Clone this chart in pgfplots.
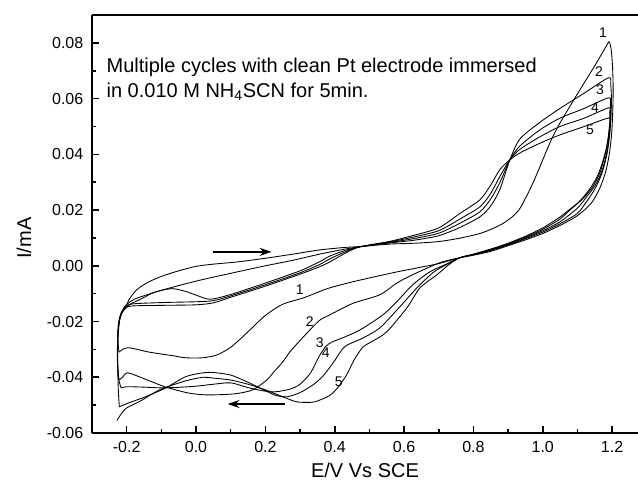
\documentclass[border=0pt]{standalone}
\usepackage{fontspec}
\setmainfont{Liberation Sans}
\usepackage{pgfplots}
\pgfplotsset{compat=1.18}
\usetikzlibrary{arrows.meta}
\begin{document}
\begin{tikzpicture}
\begin{axis}[
  scale only axis, width=409.5pt, height=313.5pt,
  xmin=-0.3, xmax=1.2747, ymin=-0.06, ymax=0.09,
  axis lines*=left, axis line style={-, line width=1.35pt},
  tick align=inside, major tick length=5.5pt, minor tick length=3pt,
  every tick/.style={black, line width=1.2pt},
  xtick={-0.2,0,0.2,0.4,0.6,0.8,1.0,1.2},
  minor xtick={-0.3,-0.1,0.1,0.3,0.5,0.7,0.9,1.1},
  ytick={-0.06,-0.04,-0.02,0,0.02,0.04,0.06,0.08},
  minor ytick={-0.05,-0.03,-0.01,0.01,0.03,0.05,0.07},
  scaled x ticks=false, scaled y ticks=false,
  xticklabel style={/pgf/number format/fixed, /pgf/number format/fixed zerofill, /pgf/number format/precision=1, yshift=-3pt},
  yticklabel style={/pgf/number format/fixed, /pgf/number format/fixed zerofill, /pgf/number format/precision=2, xshift=-3pt},
  /pgf/number format/assume math mode=true,
  tick label style={font=\fontsize{12}{14}\selectfont},
  xlabel={E/V Vs SCE}, ylabel={I/mA},
  label style={font=\fontsize{15}{18}\selectfont},
  xlabel style={at={(axis description cs:0.5,-0.0885)}, anchor=center},
  ylabel style={at={(axis description cs:-0.1245,0.466)}, anchor=center},
  clip=false,
]
\coordinate (BL) at (rel axis cs:-0.1685,-0.134);
\coordinate (TR) at (rel axis cs:1,1.0359);
\draw[line width=1.35pt] (rel axis cs:0,1) -- (rel axis cs:1,1);

% cycle 1
\addplot[black, line width=0.65pt, smooth, tension=0.45, mark=none] coordinates {
(-0.2,-0.014) (-0.19,-0.0115) (-0.17,-0.0085) (-0.14,-0.006) (-0.1,-0.0038) (-0.05,-0.0018) (0.0,-0.0002) (0.05,0.0006) (0.12,0.0014) (0.2,0.0027) (0.28,0.0042) (0.357,0.0057) (0.43,0.0066) (0.472,0.0069) (0.56,0.0078) (0.63,0.0081) (0.7,0.0087) (0.76,0.0099) (0.819,0.0116) (0.86,0.0136) (0.893,0.0158) (0.931,0.020) (0.972,0.0298) (1.021,0.0442) (1.05,0.0513) (1.1,0.0617) (1.15,0.0718) (1.183,0.0788) (1.191,0.0804) (1.197,0.078) (1.201,0.072) (1.203,0.064) (1.202,0.056) (1.199,0.048) (1.193,0.041) (1.182,0.034) (1.165,0.028) (1.14,0.0225) (1.1,0.018) (1.05,0.0145) (1.0,0.0116) (0.95,0.0093) (0.9,0.0072) (0.85,0.0052) (0.8,0.0038) (0.761,0.0029) (0.7,0.0008) (0.64,-0.0007) (0.579,-0.0022) (0.52,-0.0038) (0.45,-0.0058) (0.386,-0.0079) (0.357,-0.0092) (0.31,-0.0115) (0.25,-0.0138) (0.2,-0.0178) (0.164,-0.022) (0.13,-0.026) (0.097,-0.0295) (0.06,-0.032) (0.02,-0.033) (-0.03,-0.033) (-0.07,-0.0322) (-0.134,-0.031) (-0.18,-0.0297) (-0.197,-0.0294) (-0.212,-0.030) (-0.222,-0.031)
};
% cycle 2
\addplot[black, line width=0.65pt, smooth, tension=0.45, mark=none] coordinates {
(-0.222,-0.031) (-0.226,-0.026) (-0.224,-0.021) (-0.218,-0.0175) (-0.205,-0.0145) (-0.185,-0.0125) (-0.168,-0.0115) (-0.1,-0.0088) (0.0,-0.0055) (0.1,-0.0027) (0.2,0.0) (0.28,0.002) (0.357,0.0042) (0.43,0.006) (0.472,0.0068) (0.56,0.0082) (0.63,0.0092) (0.7,0.0108) (0.76,0.0137) (0.819,0.0176) (0.85,0.0215) (0.876,0.0273) (0.905,0.038) (0.934,0.0455) (0.992,0.0515) (1.05,0.0565) (1.12,0.062) (1.19,0.0675) (1.196,0.065) (1.198,0.06) (1.197,0.054) (1.193,0.047) (1.185,0.04) (1.17,0.033) (1.15,0.0275) (1.125,0.0228) (1.1,0.0188) (1.05,0.0151) (1.0,0.0121) (0.95,0.0097) (0.9,0.0075) (0.85,0.0055) (0.8,0.0039) (0.761,0.0029) (0.703,0.0011) (0.625,-0.0032) (0.579,-0.0062) (0.53,-0.0104) (0.452,-0.0135) (0.386,-0.0176) (0.357,-0.0195) (0.33,-0.0228) (0.3,-0.0268) (0.27,-0.031) (0.25,-0.0345) (0.225,-0.038) (0.204,-0.041) (0.164,-0.0445) (0.12,-0.0458) (0.08,-0.0462) (0.025,-0.0463) (-0.024,-0.0456) (-0.09,-0.0434) (-0.15,-0.0405) (-0.197,-0.0384) (-0.212,-0.040) (-0.222,-0.041)
};
% cycle 3
\addplot[black, line width=0.65pt, smooth, tension=0.45, mark=none] coordinates {
(-0.222,-0.041) (-0.226,-0.035) (-0.226,-0.027) (-0.222,-0.0205) (-0.212,-0.0165) (-0.19,-0.0138) (-0.16,-0.012) (-0.12,-0.0095) (-0.07,-0.0082) (-0.03,-0.0092) (0.0,-0.0105) (0.04,-0.012) (0.1,-0.0103) (0.2,-0.0062) (0.3,-0.0018) (0.357,0.0015) (0.386,0.0035) (0.43,0.0055) (0.472,0.0068) (0.56,0.0084) (0.63,0.0098) (0.7,0.0117) (0.76,0.0152) (0.819,0.0194) (0.85,0.024) (0.876,0.0298) (0.905,0.038) (0.934,0.043) (0.992,0.0488) (1.05,0.053) (1.12,0.0565) (1.19,0.0603) (1.195,0.058) (1.195,0.053) (1.192,0.047) (1.185,0.041) (1.172,0.0345) (1.152,0.029) (1.125,0.0245) (1.1,0.0207) (1.05,0.0158) (1.0,0.0126) (0.95,0.01) (0.9,0.0077) (0.85,0.0057) (0.8,0.004) (0.761,0.0029) (0.72,0.0005) (0.674,-0.0022) (0.625,-0.0068) (0.579,-0.0129) (0.545,-0.017) (0.51,-0.0201) (0.47,-0.0232) (0.43,-0.0255) (0.395,-0.0272) (0.375,-0.0288) (0.355,-0.0325) (0.33,-0.0385) (0.3,-0.0425) (0.27,-0.0443) (0.23,-0.0452) (0.2,-0.045) (0.15,-0.0437) (0.1,-0.042) (0.05,-0.0425) (0.0,-0.0432) (-0.05,-0.0436) (-0.1,-0.0438) (-0.16,-0.0435) (-0.2,-0.0434) (-0.216,-0.0438)
};
% cycle 4
\addplot[black, line width=0.65pt, smooth, tension=0.45, mark=none] coordinates {
(-0.216,-0.0438) (-0.224,-0.040) (-0.227,-0.032) (-0.225,-0.024) (-0.22,-0.019) (-0.21,-0.016) (-0.19,-0.0138) (-0.1,-0.0132) (0.0,-0.0129) (0.05,-0.0125) (0.1,-0.0108) (0.2,-0.0068) (0.3,-0.0025) (0.357,0.0005) (0.386,0.0025) (0.43,0.005) (0.472,0.0068) (0.56,0.0086) (0.63,0.0104) (0.7,0.0126) (0.76,0.0167) (0.819,0.0212) (0.85,0.026) (0.876,0.032) (0.905,0.038) (0.934,0.0418) (0.992,0.0463) (1.05,0.050) (1.12,0.053) (1.19,0.0567) (1.193,0.055) (1.193,0.051) (1.188,0.045) (1.178,0.039) (1.165,0.0335) (1.145,0.0285) (1.115,0.024) (1.08,0.0202) (1.05,0.0168) (1.0,0.0131) (0.95,0.0103) (0.9,0.0079) (0.85,0.0059) (0.8,0.0041) (0.761,0.0029) (0.72,0.0003) (0.683,-0.0025) (0.637,-0.0079) (0.588,-0.0147) (0.53,-0.0223) (0.48,-0.026) (0.429,-0.029) (0.4,-0.034) (0.37,-0.039) (0.34,-0.0425) (0.3,-0.0455) (0.262,-0.047) (0.23,-0.0465) (0.2,-0.0448) (0.15,-0.0418) (0.1,-0.0392) (0.05,-0.0383) (0.02,-0.0384) (-0.03,-0.0398) (-0.09,-0.044) (-0.15,-0.0472) (-0.19,-0.049) (-0.21,-0.050) (-0.221,-0.0506)
};
% cycle 5
\addplot[black, line width=0.65pt, smooth, tension=0.45, mark=none] coordinates {
(-0.221,-0.0506) (-0.224,-0.045) (-0.226,-0.035) (-0.225,-0.026) (-0.221,-0.02) (-0.212,-0.0165) (-0.19,-0.0145) (-0.1,-0.0142) (0.0,-0.014) (0.05,-0.0133) (0.1,-0.0113) (0.2,-0.0073) (0.3,-0.003) (0.357,-0.0003) (0.386,0.0014) (0.43,0.0045) (0.472,0.0068) (0.56,0.0088) (0.63,0.011) (0.7,0.0136) (0.76,0.0187) (0.819,0.0237) (0.85,0.029) (0.876,0.0345) (0.905,0.038) (0.934,0.0405) (0.992,0.044) (1.05,0.047) (1.12,0.050) (1.192,0.0531) (1.193,0.051) (1.19,0.047) (1.183,0.042) (1.172,0.037) (1.157,0.032) (1.135,0.0275) (1.105,0.023) (1.07,0.0195) (1.05,0.0175) (1.0,0.0136) (0.95,0.0106) (0.9,0.0081) (0.85,0.006) (0.8,0.0042) (0.761,0.0029) (0.73,0.0005) (0.695,-0.0032) (0.646,-0.0079) (0.608,-0.0151) (0.55,-0.0237) (0.51,-0.027) (0.481,-0.0292) (0.455,-0.034) (0.435,-0.039) (0.41,-0.0435) (0.386,-0.0465) (0.35,-0.0485) (0.33,-0.049) (0.29,-0.0488) (0.25,-0.047) (0.2,-0.0445) (0.15,-0.0425) (0.1,-0.041) (0.05,-0.0403) (0.02,-0.040) (-0.03,-0.0413) (-0.105,-0.0445) (-0.16,-0.0485) (-0.2,-0.051) (-0.215,-0.053) (-0.228,-0.0555)
};

% arrows
\draw[line width=1pt, -{Stealth[length=9pt,width=6pt]}] (axis cs:0.048,0.005) -- (axis cs:0.218,0.005);
\draw[line width=1pt, -{Stealth[length=9pt,width=6pt]}] (axis cs:0.256,-0.0496) -- (axis cs:0.091,-0.0496);

% annotation
\node[anchor=base west, inner sep=0pt, font=\fontsize{15}{18}\selectfont] at (axis cs:-0.2586,0.0694) {Multiple cycles with clean Pt electrode immersed};
\node[anchor=base west, inner sep=0pt, font=\fontsize{15}{18}\selectfont] at (axis cs:-0.2586,0.0604) {in 0.010 M NH\textsubscript{4}SCN for 5min.};

% curve labels
\begin{scope}[font=\fontsize{10.5}{12}\selectfont]
\node at (axis cs:1.174,0.0837) {1};
\node at (axis cs:1.162,0.0697) {2};
\node at (axis cs:1.165,0.0632) {3};
\node at (axis cs:1.151,0.0567) {4};
\node at (axis cs:1.136,0.0488) {5};
\node at (axis cs:0.299,-0.0086) {1};
\node at (axis cs:0.328,-0.0201) {2};
\node at (axis cs:0.357,-0.0276) {3};
\node at (axis cs:0.374,-0.0312) {4};
\node at (axis cs:0.412,-0.0417) {5};
\end{scope}
\end{axis}
\pgfresetboundingbox
\path (BL) rectangle (TR);
\end{tikzpicture}
\end{document}
